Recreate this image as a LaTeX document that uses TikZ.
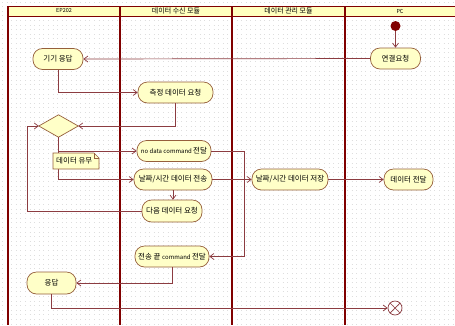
\documentclass[tikz,border=0pt]{standalone}
\usepackage{fontspec}
\setmainfont{Noto Sans CJK KR}
\usetikzlibrary{arrows.meta}
\definecolor{lane}{RGB}{128,0,0}
\definecolor{nodefill}{RGB}{255,255,200}
\definecolor{nodeline}{RGB}{150,95,60}
\definecolor{flow}{RGB}{140,60,65}
\definecolor{hdrfill}{RGB}{255,255,190}
\tikzset{
  act/.style={draw=nodeline, fill=nodefill, rounded corners=9.5pt, inner sep=0pt,
    minimum height=21pt, font=\fontsize{7.5}{8}\selectfont, line width=0.7pt},
  flowline/.style={draw=flow, line width=0.7pt, -{Straight Barb[length=4pt,width=6pt]}},
  hdr/.style={font=\fontsize{7}{7}\selectfont, inner sep=0pt},
}
\begin{document}
\begin{tikzpicture}[x=1pt,y=-1pt]
\useasboundingbox (0,0) rectangle (455,325);
\fill[white] (0,0) rectangle (455,325);
% dotted grid
\foreach \yy in {2,6.6,...,325} {
  \draw[black!13, line width=0.7pt, dash pattern=on 0.7pt off 3.9pt] (2,\yy) -- (455,\yy);
}
% header band
\fill[hdrfill] (8,6) rectangle (455,16);
\draw[lane, line width=1pt] (8,6) -- (455,6);
\draw[lane, line width=1pt] (8,16) -- (455,16);
% lane lines
\draw[lane, line width=1.5pt] (8,6) -- (8,325);
\foreach \xx in {120,232,345} { \draw[lane, line width=2pt] (\xx,6) -- (\xx,325); }
\node[hdr] (h1) at (64,11) {\fontsize{5.5}{6}\selectfont EP202};
\node[hdr] (h2) at (176,11) {데이터 수신 모듈};
\node[hdr] (h3) at (288.5,11) {데이터 관리 모듈};
\node[hdr] (h4) at (400,11) {\fontsize{5.5}{6}\selectfont PC};

% nodes
\node[circle, fill=lane, minimum size=10pt, inner sep=0pt] (start) at (395.5,26) {};
\node[act, minimum width=50pt] (conn) at (395.5,58.5) {연결요청};
\node[act, minimum width=50pt] (resp1) at (58,59) {기기 응답};
\node[act, minimum width=75pt] (req) at (175.5,92.5) {측정 데이터 요청};
\node[minimum width=39pt, minimum height=22pt, inner sep=0pt] (dec) at (58.5,126) {};
\filldraw[draw=nodeline, fill=nodefill, line width=0.7pt] (dec.north) -- (dec.east) -- (dec.south) -- (dec.west) -- cycle;
\node[act, minimum width=74pt] (nodata) at (174,151) {\fontsize{6}{7}\selectfont no data command \fontsize{7.5}{8}\selectfont 전달};
\node[act, minimum width=78pt] (send) at (173,179.5) {날짜/시간 데이터 전송};
\node[act, minimum width=60pt, minimum height=22pt] (next) at (172,211) {다음 데이터 요청};
\node[act, minimum width=74pt] (endcmd) at (172,256.5) {전송 끝 \fontsize{6}{7}\selectfont command \fontsize{7.5}{8}\selectfont 전달};
\node[act, minimum width=49pt, minimum height=22pt] (resp2) at (51.5,283) {응답};
\node[act, minimum width=76pt] (store) at (290,179.5) {날짜/시간 데이터 저장};
\node[act, minimum width=49pt] (deliver) at (408.5,179.5) {데이터 전달};
\node[circle, draw=flow, line width=0.7pt, minimum size=14pt, inner sep=0pt] (fin) at (395,308) {};
\draw[flow, line width=0.7pt] (fin.north west) -- (fin.south east) (fin.north east) -- (fin.south west);

% connectors
\draw[flowline] (start) -- (conn);
\draw[flowline] (conn.west) -- (resp1.east);
\draw[flowline] (resp1.south) |- (req.west);
\draw[flowline] (req.south) |- (dec.east);
\draw[flowline] (dec.south) |- (nodata.west);
\draw[flowline] (dec.south) |- (send.west);
\draw[flowline] (send.south) -- (next.north -| send.south);
\coordinate (lp) at (27,211);
\draw[flowline] (next.west) -- (lp) |- (dec.west);
\draw[flowline] (send.east) -- (store.west);
\draw[flowline] (store.east) -- (deliver.west);
\coordinate (rp) at (244,151);
\draw[flowline] (nodata.east) -- (rp) |- (endcmd.east);
\draw[flowline] (endcmd.south) |- (resp2.east);
\draw[flowline] (resp2.south) |- (fin.west);

% note
\node[inner sep=0pt, minimum width=46pt, minimum height=16pt] (note) at (76,161) {};
\fill[nodefill] (53,153) -- (94,153) -- (99,158) -- (99,169) -- (53,169) -- cycle;
\draw[nodeline, line width=0.7pt] (53,153) -- (94,153) -- (99,158) -- (99,169) -- (53,169) -- cycle;
\draw[nodeline, line width=0.6pt] (94,153) -- (94,158) -- (99,158);
\node[font=\fontsize{7.5}{8}\selectfont, inner sep=0pt, anchor=west] (notetext) at (56,161) {데이터 유무};
\end{tikzpicture}
\end{document}
